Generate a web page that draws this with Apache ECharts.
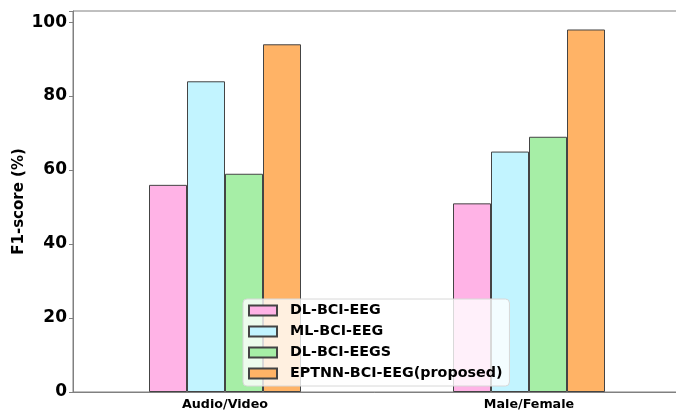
<!DOCTYPE html>
<html>
<head>
<meta charset="utf-8">
<script src="https://cdn.jsdelivr.net/npm/echarts@6/dist/echarts.min.js"></script>
<style>html,body{margin:0;padding:0;background:#fff}#c{width:676px;height:411px}</style>
</head>
<body>
<div id="c"></div>
<script>
const categories = ['Audio/Video', 'Male/Female'];
const seriesNames = ['DL-BCI-EEG', 'ML-BCI-EEG', 'DL-BCI-EEGS', 'EPTNN-BCI-EEG(proposed)'];
const dlBciEeg = [56, 51];
const mlBciEeg = [84, 65];
const dlBciEegs = [59, 69];
const eptnn = [94, 98];
const yTicks = [0, 20, 40, 60, 80, 100];
const colors = ['#ffb3e6', '#c2f4ff', '#a6eea6', '#ffb366'];
const allValues = [dlBciEeg, mlBciEeg, dlBciEegs, eptnn];

const font = 'DejaVu Sans';
const chart = echarts.init(document.getElementById('c'));
chart.setOption({
  animation: false,
  textStyle: { fontFamily: font },
  grid: { left: 73, top: 11, width: 608, bottom: 19, outerBoundsMode: 'none', containLabel: false,
    show: true, borderColor: '#808080', borderWidth: 1, backgroundColor: 'transparent' },
  legend: {
    orient: 'vertical', left: 243, top: 299,
    padding: [4, 7, 5, 5],
    icon: 'rect',
    itemWidth: 28, itemHeight: 10, itemGap: 6,
    backgroundColor: 'rgba(255,255,255,0.8)',
    borderColor: '#d8d8d8', borderWidth: 1, borderRadius: 4,
    textStyle: { fontFamily: font, fontWeight: 'bold', fontSize: 14.3, color: '#000', lineHeight: 15, padding: [0, 0, 0, 8] },
    data: seriesNames
  },
  xAxis: {
    type: 'category', data: categories,
    axisLine: { lineStyle: { color: '#808080' } },
    axisTick: { alignWithLabel: true, length: 4, lineStyle: { color: '#808080' } },
    axisLabel: { color: '#000', fontWeight: 'bold', fontSize: 12.7, margin: 6, fontFamily: font }
  },
  yAxis: {
    type: 'value', min: 0, max: 103, interval: 20,
    name: 'F1-score (%)', nameLocation: 'middle', nameGap: 46, nameMoveOverlap: false,
    nameTextStyle: { fontWeight: 'bold', fontSize: 15, color: '#000', fontFamily: font },
    axisLine: { show: true, lineStyle: { color: '#808080' } },
    axisTick: { show: true, length: 4, lineStyle: { color: '#808080' } },
    splitLine: { show: false },
    axisLabel: { color: '#000', fontWeight: 'bold', fontSize: 17, margin: 6, fontFamily: font,
      formatter: v => yTicks.includes(v) ? String(v) : '' }
  },
  series: seriesNames.map((n, i) => ({
    name: n, type: 'bar', data: allValues[i],
    barGap: '0%', barCategoryGap: '50%',
    itemStyle: { color: colors[i], borderColor: '#444', borderWidth: 1 }
  }))
});
</script>
</body>
</html>
